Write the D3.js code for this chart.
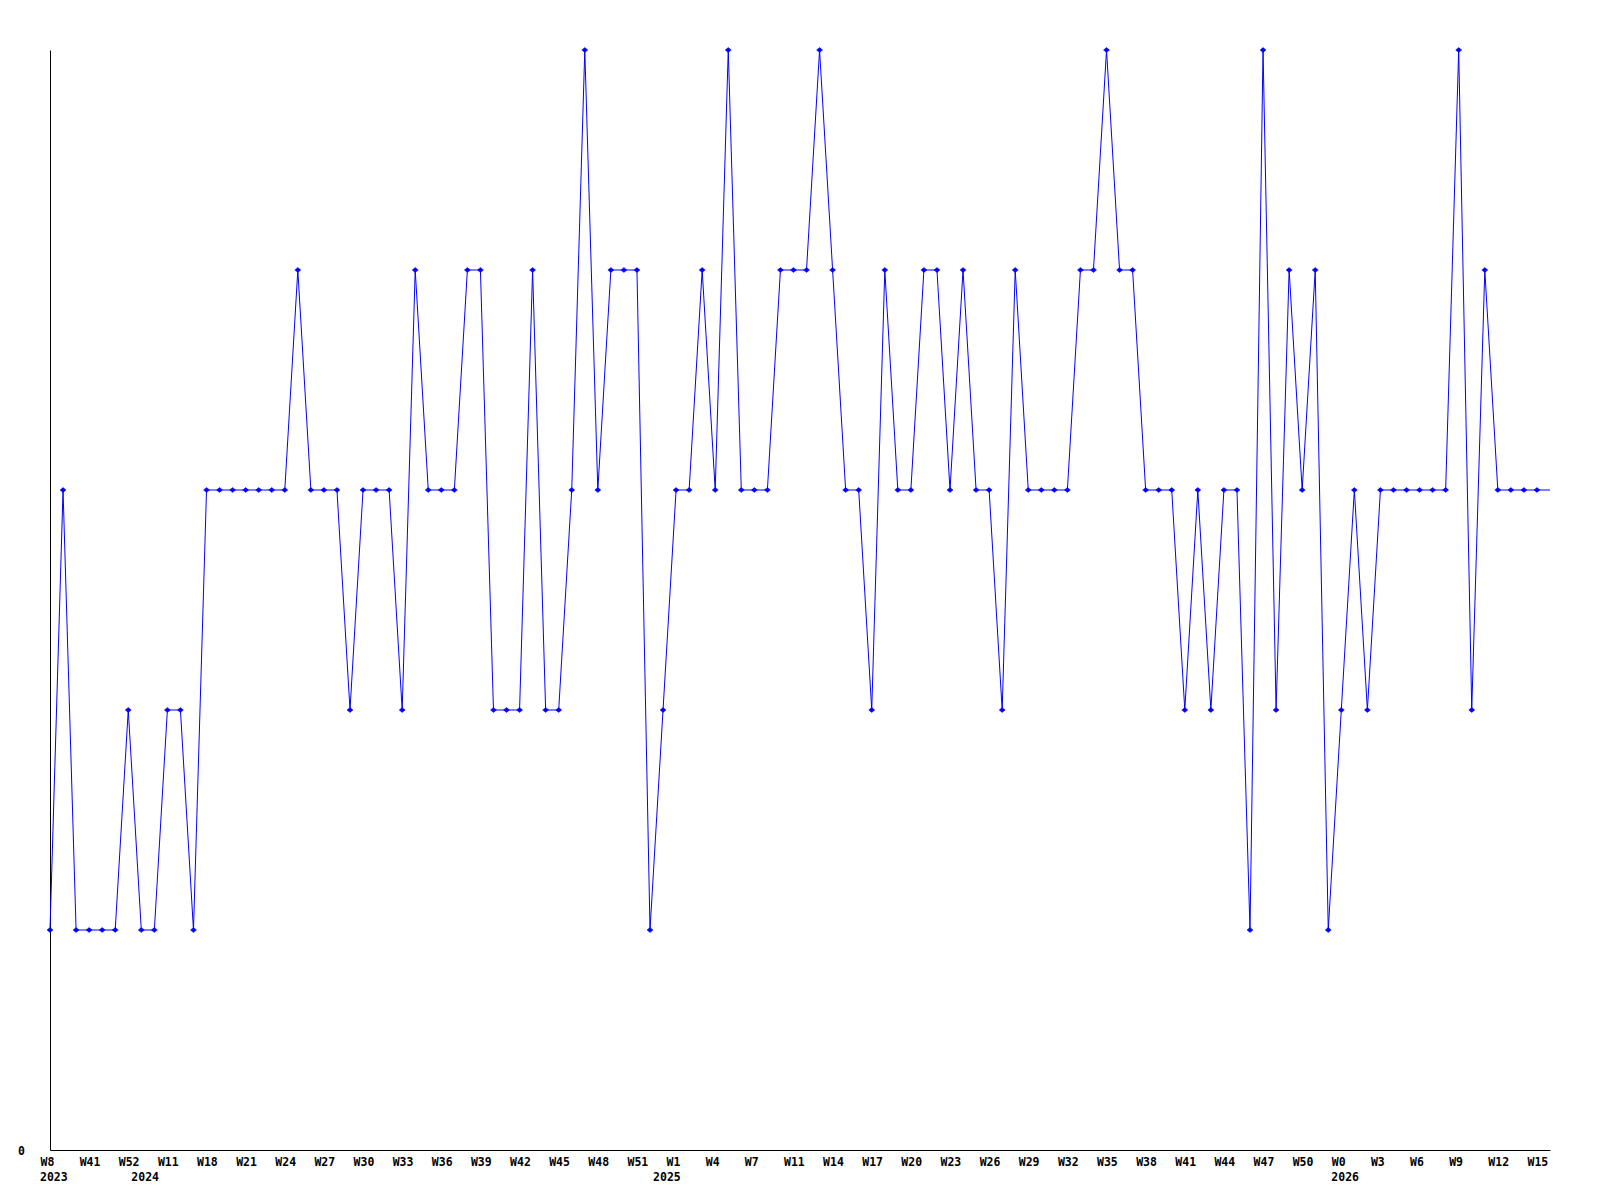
<!DOCTYPE html>
<html>
<head>
<meta charset="utf-8">
<script src="https://cdn.jsdelivr.net/npm/d3@7"></script>
<style>
  body { margin: 0; background: #fff; }
  text { font-family: "DejaVu Sans Mono", monospace; font-weight: bold; font-size: 11.5px; fill: #000; }
</style>
</head>
<body>
<div id="chart"></div>
<script>
(function(d3) {
    'use strict';

    // one value per week, oldest first
    var values = [
      1, 3, 1, 1, 1, 1, 2, 1, 1, 2, 2, 1, 3, 3, 3, 3, 3, 3, 3, 4,
      3, 3, 3, 2, 3, 3, 3, 2, 4, 3, 3, 3, 4, 4, 2, 2, 2, 4, 2, 2,
      3, 5, 3, 4, 4, 4, 1, 2, 3, 3, 4, 3, 5, 3, 3, 3, 4, 4, 4, 5,
      4, 3, 3, 2, 4, 3, 3, 4, 4, 3, 4, 3, 3, 2, 4, 3, 3, 3, 3, 4,
      4, 5, 4, 4, 3, 3, 3, 2, 3, 2, 3, 3, 1, 5, 2, 4, 3, 4, 1, 2,
      3, 2, 3, 3, 3, 3, 3, 3, 5, 2, 4, 3, 3, 3, 3, 3
    ];

    // week labels, one on every third point
    var weekLabels = [
      'W8', 'W41', 'W52', 'W11', 'W18', 'W21', 'W24', 'W27', 'W30', 'W33',
      'W36', 'W39', 'W42', 'W45', 'W48', 'W51', 'W1', 'W4', 'W7', 'W11',
      'W14', 'W17', 'W20', 'W23', 'W26', 'W29', 'W32', 'W35', 'W38', 'W41',
      'W44', 'W47', 'W50', 'W0', 'W3', 'W6', 'W9', 'W12', 'W15'
    ];
    var labelStep = 3;

    var yearLabels = ['2023', '2024', '2025', '2026'];
    var yearIndex = [0, 7, 47, 99];

    var yMax = 5;

    var width = 1600;
    var height = 1200;
    var left = 50, right = 1550, top = 50, bottom = 1150;

    var svg = d3.select('#chart')
      .append('svg')
      .attr('width', width)
      .attr('height', height);

    var x = d3.scaleLinear()
      .domain([0, values.length - 1])
      .range([left, right]);

    var y = d3.scaleLinear()
      .domain([0, yMax])
      .range([bottom, top]);

    var tickIdx = weekLabels.map(function(d, i) { return i * labelStep; });

    var xAxis = svg.append('g')
      .attr('transform', 'translate(0,' + bottom + ')')
      .call(d3.axisBottom(x)
        .tickValues(tickIdx)
        .tickFormat(function(d) { return weekLabels[d / labelStep]; })
        .tickSize(0)
        .tickPadding(0));

    xAxis.attr('font-family', null).attr('font-size', null);
    xAxis.select('.domain').attr('stroke', '#000');
    xAxis.selectAll('text')
      .attr('text-anchor', 'start')
      .attr('dx', -10)
      .attr('dy', 0)
      .attr('y', 16);

    var yAxis = svg.append('g')
      .attr('transform', 'translate(' + left + ',0)')
      .call(d3.axisLeft(y)
        .tickValues([0])
        .tickFormat(d3.format('d'))
        .tickSize(0)
        .tickPadding(25));

    yAxis.attr('font-family', null).attr('font-size', null);
    yAxis.select('.domain').attr('stroke', '#000');
    yAxis.selectAll('text').attr('dy', '0.35em');

    // year row under the week labels
    svg.selectAll('.year')
      .data(yearLabels)
      .enter()
      .append('text')
      .attr('class', 'year')
      .attr('x', function(d, i) { return x(yearIndex[i]) - 10; })
      .attr('y', bottom + 31)
      .text(function(d) { return d; });

    var line = d3.line()
      .x(function(d, i) { return x(i); })
      .y(function(d) { return y(d); });

    svg.append('path')
      .datum(values)
      .attr('fill', 'none')
      .attr('stroke', '#0000ff')
      .attr('stroke-width', 1)
      .attr('d', line);

    // small diamond markers, the last (partial) week has none
    svg.selectAll('.dot')
      .data(values.slice(0, values.length - 1))
      .enter()
      .append('path')
      .attr('class', 'dot')
      .attr('fill', '#0000ff')
      .attr('stroke', '#0000ff')
      .attr('stroke-width', 0.5)
      .attr('d', function(d, i) {
        var cx = x(i), cy = y(d);
        return 'M' + (cx - 3) + ',' + cy + 'L' + cx + ',' + (cy - 2.5) +
          'L' + (cx + 3) + ',' + cy + 'L' + cx + ',' + (cy + 2.5) + 'Z';
      });

})(window.d3);
</script>
</body>
</html>
